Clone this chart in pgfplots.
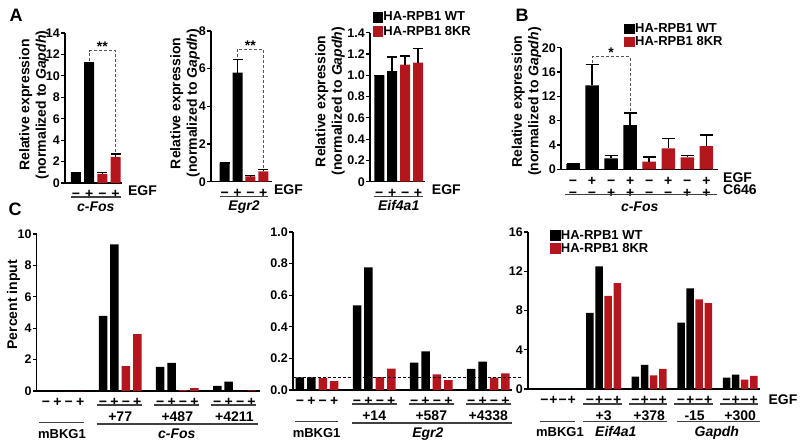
\documentclass[border=0pt]{standalone}
\usepackage{fontspec}
\setmainfont{Liberation Sans}
\usepackage{pgfplots}
\pgfplotsset{compat=1.18}
\definecolor{rbar}{RGB}{180,22,30}
\definecolor{sig}{RGB}{85,85,85}

\newcommand{\mi}{\rule{0pt}{9.5pt}−}
\newcommand{\pl}{\rule{0pt}{9.5pt}+}

\tikzset{
  grp/.style={line width=1.1pt, black!75},
  sigl/.style={sig, line width=1.1pt, dash pattern=on 3pt off 2pt},
  t14/.style={font=\fontsize{14pt}{14pt}\selectfont\bfseries},
  t13/.style={font=\fontsize{13pt}{13pt}\selectfont\bfseries},
}
\pgfplotsset{
  panel/.style={
    scale only axis, anchor=south west,
    axis x line=bottom, axis y line=left,
    axis line style={-, line width=1.2pt},
    tick align=outside, major tick length=4pt,
    ytick style={line width=1.2pt, black},
    xtick style={draw=none},
    ymin=0, clip=false,
    ybar, bar shift=0pt,
    /pgf/number format/assume math mode=true,
    xticklabel style={font=\fontsize{14pt}{14pt}\selectfont\bfseries, inner sep=1pt, yshift=-1pt},
    yticklabel style={font=\fontsize{12.5pt}{12.5pt}\selectfont\bfseries, inner sep=1pt},
    ylabel style={font=\fontsize{14pt}{16.5pt}\selectfont\bfseries, align=center,
      anchor=center, inner sep=0pt},
    legend style={draw=none, fill=none, inner sep=0pt, row sep=1pt,
      font=\fontsize{13pt}{13pt}\selectfont\bfseries,
      nodes={inner sep=0.7pt, font=\fontsize{13pt}{13pt}\selectfont\bfseries}},
    legend cell align=left,
  },
  wt/.style={fill=black, draw=none},
  kr/.style={fill=rbar, draw=none},
  errb/.style={error bars/.cd, y dir=plus, y explicit,
     error bar style={draw=black, line width=1.5pt},
     error mark options={draw=black, line width=1.5pt, rotate=90, mark size=#1}},
}

\begin{document}
\begin{tikzpicture}
\path[use as bounding box] (0,0) rectangle (800pt,-445pt);

\node[font=\fontsize{18pt}{18pt}\selectfont\bfseries] at (16pt,-15pt) {A};
\node[font=\fontsize{18pt}{18pt}\selectfont\bfseries] at (522pt,-15pt) {B};
\node[font=\fontsize{18pt}{18pt}\selectfont\bfseries] at (15pt,-209pt) {C};

% ---------------- A: c-Fos
\begin{axis}[panel, at={(65pt,-183pt)}, width=57pt, height=150pt,
  xmin=0.17, xmax=4.49, ymax=14, ytick={0,2,...,14},
  bar width=10pt, xtick={1,2,3,4}, xticklabels={\mi,\pl,\mi,\pl},
  ylabel={Relative expression\\(normalized to \textit{Gapdh})},
  ylabel style={at={(axis description cs:-0.544,0.52)}}]
\addplot[wt, errb=5pt] table[x=x, y=y, y error=e] {
x y e
1 1.0 0
2 11.23 0
};
\addplot[kr, errb=5pt] table[x=x, y=y, y error=e] {
x y e
3 0.85 0.15
4 2.45 0.25
};
\draw[sigl] (axis cs:2,11.4) -- (axis cs:2,12.35) -- (axis cs:4,12.35) -- (axis cs:4,2.85);
\node[t14, anchor=base, yshift=-1pt] at (axis cs:3,12.35) {**};
\draw[grp] ([yshift=-14pt]axis cs:0.6,0) -- ([yshift=-14pt]axis cs:4.4,0);
\node[t14, anchor=base] at ([yshift=-28.7pt]axis cs:2.5,0) {\textit{c-Fos}};
\node[t14, anchor=base west, inner sep=0pt] at ([yshift=-12pt]axis cs:4.94,0) {EGF};
\end{axis}

% ---------------- A: Egr2
\begin{axis}[panel, at={(211pt,-181.7pt)}, width=60.7pt, height=150.7pt,
  xmin=-0.06, xmax=4.65, ymax=8, ytick={0,2,...,8},
  bar width=10pt, xtick={1,2,3,4}, xticklabels={\mi,\pl,\mi,\pl},
  ylabel={Relative expression\\(normalized to \textit{Gapdh})},
  ylabel style={at={(axis description cs:-0.428,0.52)}}]
\addplot[wt, errb=5pt] table[x=x, y=y, y error=e] {
x y e
1 0.98 0
2 5.79 0.71
};
\addplot[kr, errb=5pt] table[x=x, y=y, y error=e] {
x y e
3 0.28 0.04
4 0.55 0.1
};
\draw[sigl] (axis cs:2,6.6) -- (axis cs:2,7.03) -- (axis cs:4,7.03) -- (axis cs:4,0.75);
\node[t14, anchor=base, yshift=-1pt] at (axis cs:3,7.03) {**};
\draw[grp] ([yshift=-15pt]axis cs:0.6,0) -- ([yshift=-15pt]axis cs:4.4,0);
\node[t14, anchor=base] at ([yshift=-29pt]axis cs:2.5,0) {\textit{Egr2}};
\node[t14, anchor=base west, inner sep=0pt] at ([yshift=-13pt]axis cs:4.82,0) {EGF};
\end{axis}

% ---------------- A: Eif4a1
\begin{axis}[panel, at={(370pt,-181.7pt)}, width=55pt, height=149pt,
  xmin=0.28, xmax=4.54, ymax=1.4, ytick={0,0.2,...,1.4},
  yticklabels={0,0.2,0.4,0.6,0.8,1.0,1.2,1.4},
  bar width=10pt, xtick={1,2,3,4}, xticklabels={\mi,\pl,\mi,\pl},
  ylabel={Relative expression\\(normalized to \textit{Gapdh})},
  ylabel style={at={(axis description cs:-0.727,0.54)}},
  legend style={at={(0.047,1.146)}, anchor=north west, row sep=2.5pt}]
\addlegendimage{legend image code/.code={\fill[black] (0pt,-4.7pt) rectangle (9.6pt,4.9pt);}}
\addlegendentry{HA-RPB1 WT}
\addlegendimage{legend image code/.code={\fill[rbar] (0pt,-4.7pt) rectangle (9.6pt,4.9pt);}}
\addlegendentry{HA-RPB1 8KR}
\addplot[forget plot, wt, errb=5pt] table[x=x, y=y, y error=e] {
x y e
1 1.0 0
2 1.04 0.13
};
\addplot[forget plot, kr, errb=5pt] table[x=x, y=y, y error=e] {
x y e
3 1.10 0.08
4 1.12 0.13
};
\draw[grp] ([yshift=-15pt]axis cs:0.6,0) -- ([yshift=-15pt]axis cs:4.4,0);
\node[t14, anchor=base] at ([yshift=-29pt]axis cs:2.5,0) {\textit{Eif4a1}};
\node[t14, anchor=base west, inner sep=0pt] at ([yshift=-13pt]axis cs:5.06,0) {EGF};
\end{axis}

% ---------------- B
\begin{axis}[panel, at={(561pt,-169.3pt)}, width=157pt, height=121.6pt,
  xmin=0.37, xmax=8.61, ymax=20, ytick={0,4,...,20},
  bar width=13.5pt, xtick={1,...,8},
  xticklabels={{\mi\\\mi},{\pl\\\mi},{\mi\\\pl},{\pl\\\pl},{\mi\\\mi},{\pl\\\mi},{\mi\\\pl},{\pl\\\pl}},
  xticklabel style={align=center, font=\fontsize{14pt}{12pt}\selectfont\bfseries},
  ylabel={Relative expression\\(normalized to \textit{Gapdh})},
  ylabel style={at={(axis description cs:-0.22,0.557)}},
  legend style={at={(0.403,1.206)}, anchor=north west}]
\addlegendimage{legend image code/.code={\fill[black] (0pt,-4.7pt) rectangle (9.6pt,4.9pt);}}
\addlegendentry{HA-RPB1 WT}
\addlegendimage{legend image code/.code={\fill[rbar] (0pt,-4.7pt) rectangle (9.6pt,4.9pt);}}
\addlegendentry{HA-RPB1 8KR}
\addplot[forget plot, wt, errb=6.5pt] table[x=x, y=y, y error=e] {
x y e
1 0.85 0
2 13.8 3.45
3 1.8 0.45
4 7.25 2.0
};
\addplot[forget plot, kr, errb=6.5pt] table[x=x, y=y, y error=e] {
x y e
5 1.25 0.75
6 3.45 1.6
7 1.97 0.27
8 3.83 1.85
};
\draw[sigl] (axis cs:2,17.5) -- (axis cs:2,18.5) -- (axis cs:4,18.5) -- (axis cs:4,9.4);
\node[t14, anchor=base, yshift=-0.5pt] at (axis cs:3,18.5) {*};
\draw[grp] ([yshift=-25pt]axis cs:0.58,0) -- ([yshift=-25pt]axis cs:8.54,0);
\node[t14, anchor=base] at ([yshift=-42.4pt]axis cs:4.5,0) {\textit{c-Fos}};
\node[t14, anchor=base west, inner sep=0pt] at ([yshift=-13pt]axis cs:8.87,0) {EGF};
\node[t14, anchor=base west, inner sep=0pt] at ([yshift=-25pt]axis cs:8.87,0) {C646};
\end{axis}

% ---------------- C: c-Fos
\begin{axis}[panel, at={(36.7pt,-391pt)}, width=223.3pt, height=157pt,
  xmin=0.19, xmax=19.74, ymax=10, ytick={0,2,...,10},
  bar width=8.5pt,
  xtick={1,2,3,4,6,7,8,9,11,12,13,14,16,17,18,19},
  xticklabels={\mi,\pl,\mi,\pl,\mi,\pl,\mi,\pl,\mi,\pl,\mi,\pl,\mi,\pl,\mi,\pl},
  ylabel={Percent input},
  ylabel style={at={(axis description cs:-0.104,0.55)}}]
\addplot[wt] table[x=x, y=y] {
x y
1 0
2 0
6 4.79
7 9.34
11 1.54
12 1.79
16 0.32
17 0.60
};
\addplot[kr] table[x=x, y=y] {
x y
3 0
4 0
8 1.58
9 3.63
13 0.06
14 0.19
18 0.0
19 0.04
};
\draw[grp] ([yshift=-14pt]axis cs:5.47,0) -- ([yshift=-14pt]axis cs:9.41,0);
\draw[grp] ([yshift=-14pt]axis cs:10.47,0) -- ([yshift=-14pt]axis cs:14.41,0);
\draw[grp] ([yshift=-14pt]axis cs:15.47,0) -- ([yshift=-14pt]axis cs:19.41,0);
\node[t14, anchor=base] at ([yshift=-30.7pt]axis cs:7.5,0) {+77};
\node[t14, anchor=base] at ([yshift=-30.7pt]axis cs:12.5,0) {+487};
\node[t14, anchor=base] at ([yshift=-30.7pt]axis cs:17.5,0) {+4211};
\draw[grp] ([yshift=-31.5pt]axis cs:0.42,0) -- ([yshift=-31.5pt]axis cs:4.33,0);
\draw[grp] ([yshift=-33pt]axis cs:5.44,0) -- ([yshift=-33pt]axis cs:19.59,0);
\node[t13, anchor=base] at ([yshift=-47.3pt]axis cs:2.4,0) {mBKG1};
\node[t14, anchor=base] at ([yshift=-47.3pt]axis cs:12.45,0) {\textit{c-Fos}};
\end{axis}

% ---------------- C: Egr2
\begin{axis}[panel, at={(293pt,-390pt)}, width=219pt, height=158pt,
  xmin=0.39, xmax=19.57, ymax=1, ytick={0,0.2,...,1.0},
  yticklabels={0.0,0.2,0.4,0.6,0.8,1.0},
  bar width=8.5pt,
  xtick={1,2,3,4,6,7,8,9,11,12,13,14,16,17,18,19},
  xticklabels={\mi,\pl,\mi,\pl,\mi,\pl,\mi,\pl,\mi,\pl,\mi,\pl,\mi,\pl,\mi,\pl}]
\addplot[wt] table[x=x, y=y] {
x y
1 0.080
2 0.080
6 0.535
7 0.776
11 0.173
12 0.245
16 0.133
17 0.180
};
\addplot[kr] table[x=x, y=y] {
x y
3 0.076
4 0.057
8 0.082
9 0.135
13 0.099
14 0.063
18 0.078
19 0.106
};
\draw[black, line width=1pt, dash pattern=on 3pt off 2pt] (axis cs:0.39,0.08) -- (axis cs:20.44,0.08);
\draw[grp] ([yshift=-14pt]axis cs:5.53,0) -- ([yshift=-14pt]axis cs:9.47,0);
\draw[grp] ([yshift=-14pt]axis cs:10.53,0) -- ([yshift=-14pt]axis cs:14.47,0);
\draw[grp] ([yshift=-14pt]axis cs:15.53,0) -- ([yshift=-14pt]axis cs:19.47,0);
\node[t14, anchor=base] at ([yshift=-30.7pt]axis cs:7.5,0) {+14};
\node[t14, anchor=base] at ([yshift=-30.7pt]axis cs:12.5,0) {+587};
\node[t14, anchor=base] at ([yshift=-30.7pt]axis cs:17.5,0) {+4338};
\draw[grp] ([yshift=-31.5pt]axis cs:0.57,0) -- ([yshift=-31.5pt]axis cs:4.36,0);
\draw[grp] ([yshift=-33pt]axis cs:5.53,0) -- ([yshift=-33pt]axis cs:19.54,0);
\node[t13, anchor=base] at ([yshift=-47.3pt]axis cs:2.46,0) {mBKG1};
\node[t14, anchor=base] at ([yshift=-47.3pt]axis cs:12.2,0) {\textit{Egr2}};
\end{axis}

% ---------------- C: Eif4a1 / Gapdh
\begin{axis}[panel, at={(528pt,-389pt)}, width=232pt, height=157pt,
  xmin=-0.81, xmax=24.68, ymax=16, ytick={0,4,...,16},
  bar width=7.5pt,
  xtick={1,2,3,4,6,7,8,9,11,12,13,14,16,17,18,19,21,22,23,24},
  xticklabels={\mi,\pl,\mi,\pl,\mi,\pl,\mi,\pl,\mi,\pl,\mi,\pl,\mi,\pl,\mi,\pl,\mi,\pl,\mi,\pl},
  legend style={at={(0.095,1.017)}, anchor=north west}]
\addlegendimage{legend image code/.code={\fill[black] (0pt,-4.7pt) rectangle (9.6pt,4.9pt);}}
\addlegendentry{HA-RPB1 WT}
\addlegendimage{legend image code/.code={\fill[rbar] (0pt,-4.7pt) rectangle (9.6pt,4.9pt);}}
\addlegendentry{HA-RPB1 8KR}
\addplot[forget plot, wt] table[x=x, y=y] {
x y
1 0
2 0
6 7.75
7 12.5
11 1.25
12 2.45
16 6.76
17 10.26
21 1.15
22 1.46
};
\addplot[forget plot, kr] table[x=x, y=y] {
x y
3 0
4 0
8 9.5
9 10.8
13 1.4
14 2.04
18 9.14
19 8.74
23 0.95
24 1.33
};
\draw[grp] ([yshift=-15pt]axis cs:5.27,0) -- ([yshift=-15pt]axis cs:9.49,0);
\draw[grp] ([yshift=-15pt]axis cs:10.27,0) -- ([yshift=-15pt]axis cs:14.49,0);
\draw[grp] ([yshift=-15pt]axis cs:15.27,0) -- ([yshift=-15pt]axis cs:19.49,0);
\draw[grp] ([yshift=-15pt]axis cs:20.27,0) -- ([yshift=-15pt]axis cs:24.49,0);
\node[t14, anchor=base] at ([yshift=-31pt]axis cs:7.5,0) {+3};
\node[t14, anchor=base] at ([yshift=-31pt]axis cs:12.5,0) {+378};
\node[t14, anchor=base] at ([yshift=-31pt]axis cs:17.5,0) {-15};
\node[t14, anchor=base] at ([yshift=-31pt]axis cs:22.5,0) {+300};
\draw[grp] ([yshift=-32.7pt]axis cs:0.51,0) -- ([yshift=-32.7pt]axis cs:4.35,0);
\draw[grp] ([yshift=-32.7pt]axis cs:5.27,0) -- ([yshift=-32.7pt]axis cs:14.43,0);
\draw[grp] ([yshift=-32.7pt]axis cs:15.53,0) -- ([yshift=-32.7pt]axis cs:24.68,0);
\node[t13, anchor=base] at ([yshift=-47.7pt]axis cs:2.7,0) {mBKG1};
\node[t14, anchor=base] at ([yshift=-47.7pt]axis cs:8.84,0) {\textit{Eif4a1}};
\node[t14, anchor=base] at ([yshift=-47.7pt]axis cs:19.93,0) {\textit{Gapdh}};
\node[t14, anchor=base west, inner sep=0pt] at ([yshift=-15pt]axis cs:25.6,0) {EGF};
\end{axis}
\end{tikzpicture}
\end{document}
